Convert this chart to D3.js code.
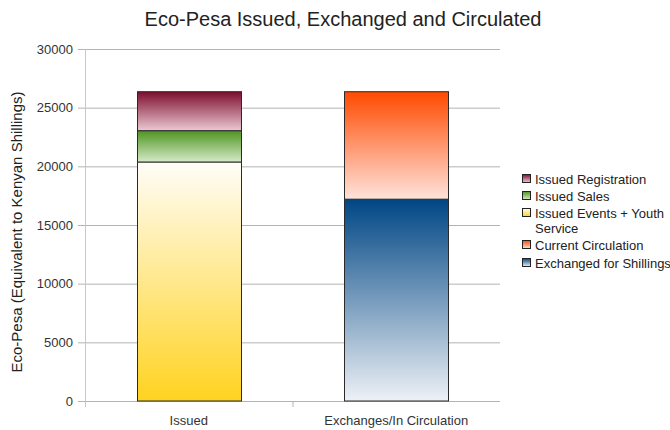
<!DOCTYPE html>
<html>
<head>
<meta charset="utf-8">
<script src="https://cdn.jsdelivr.net/npm/d3@7"></script>
<style>
body { margin: 0; background: #fff; }
text { font-family: "Liberation Sans", Arial, sans-serif; }
</style>
</head>
<body>
<div id="chart"></div>
<script>
// chart data
var categories = ["Issued", "Exchanges/In Circulation"];
var issuedNames = ["Issued Events + Youth Service", "Issued Sales", "Issued Registration"];
var issuedValues = [20370, 2670, 3320];
var exchangedNames = ["Exchanged for Shillings", "Current Circulation"];
var exchangedValues = [17200, 9160];
var yTicks = [0, 5000, 10000, 15000, 20000, 25000, 30000];
var legendItems = ["Issued Registration", "Issued Sales", "Issued Events + Youth Service",
	"Current Circulation", "Exchanged for Shillings"];

// gradient colours: [top, bottom]
var grads = {
	"Issued Registration": ["#7d0d2e", "#ebc9d3"],
	"Issued Sales": ["#4e9420", "#d6eac6"],
	"Issued Events + Youth Service": ["#fffdf8", "#ffd320"],
	"Current Circulation": ["#ff4a00", "#ffe3dc"],
	"Exchanged for Shillings": ["#004684", "#eef1f6"]
};

function chart() {
	var width = 670, height = 430;
	var pl = 85, pr = 500, pt = 49, pb = 401;

	var svg = d3.select("#chart").append("svg")
		.attr("width", width)
		.attr("height", height);

	var defs = svg.append("defs");
	var gid = {};
	Object.keys(grads).forEach(function(k, i) {
		var g = defs.append("linearGradient")
			.attr("id", "g" + i)
			.attr("x1", 0).attr("y1", 0).attr("x2", 0).attr("y2", 1);
		g.append("stop").attr("offset", "0%").attr("stop-color", grads[k][0]);
		g.append("stop").attr("offset", "100%").attr("stop-color", grads[k][1]);
		gid[k] = "g" + i;
	});

	var x = d3.scaleBand().domain(categories).range([pl, pr]);
	var y = d3.scaleLinear().domain([0, 30000]).range([pb, pt]);

	// gridlines
	svg.append("g").selectAll("line").data(yTicks).enter().append("line")
		.attr("x1", pl - 7).attr("x2", pr)
		.attr("y1", function(d){return y(d) + 0.5}).attr("y2", function(d){return y(d) + 0.5})
		.attr("stroke", "#b3b3b3").attr("stroke-width", 1);

	// y axis line
	svg.append("line")
		.attr("x1", pl + 0.5).attr("x2", pl + 0.5).attr("y1", pt).attr("y2", pb + 6)
		.attr("stroke", "#c8c8c8");

	// x axis middle tick
	svg.append("line")
		.attr("x1", x(categories[1]) + 0.5).attr("x2", x(categories[1]) + 0.5)
		.attr("y1", pb).attr("y2", pb + 6)
		.attr("stroke", "#b3b3b3");

	// y tick labels
	svg.append("g").selectAll("text").data(yTicks).enter().append("text")
		.attr("x", pl - 12).attr("y", function(d){return y(d) + 4.5})
		.attr("text-anchor", "end").attr("font-size", 13).attr("fill", "#333")
		.text(function(d){return d});

	// stacks
	function stackData(cat, names, vals) {
		var out = [], acc = 0;
		for (var i in vals) {
			out.push({cat: cat, name: names[i], y0: acc, y1: acc + vals[i]});
			acc += vals[i];
		}
		return out;
	}
	var segs = stackData(categories[0], issuedNames, issuedValues)
		.concat(stackData(categories[1], exchangedNames, exchangedValues));

	var bw = Math.round(x.bandwidth() * 0.5);
	svg.append("g").selectAll("rect").data(segs).enter().append("rect")
		.attr("x", function(d){return Math.round(x(d.cat) + (x.bandwidth() - bw) / 2) + 0.5})
		.attr("width", bw)
		.attr("y", function(d){return y(d.y1)})
		.attr("height", function(d){return y(d.y0) - y(d.y1)})
		.attr("fill", function(d){return "url(#" + gid[d.name] + ")"})
		.attr("stroke", "#2a2a2a").attr("stroke-width", 1);

	// category labels
	svg.append("g").selectAll("text").data(categories).enter().append("text")
		.attr("x", function(d){return x(d) + x.bandwidth() / 2})
		.attr("y", pb + 24)
		.attr("text-anchor", "middle").attr("font-size", 13).attr("fill", "#333")
		.text(function(d){return d});

	// title
	svg.append("text")
		.attr("x", 343).attr("y", 26)
		.attr("text-anchor", "middle").attr("font-size", 20).attr("fill", "#222")
		.text("Eco-Pesa Issued, Exchanged and Circulated");

	// y title
	svg.append("text")
		.attr("transform", "translate(22,232) rotate(-90)")
		.attr("text-anchor", "middle").attr("font-size", 15).attr("fill", "#222")
		.text("Eco-Pesa (Equivalent to Kenyan Shillings)");

	// legend
	var ly = [179, 196, 213, 245, 263];
	var leg = svg.append("g");
	legendItems.forEach(function(t, i) {
		leg.append("rect")
			.attr("x", 522.5).attr("y", ly[i] - 4.5).attr("width", 8).attr("height", 8)
			.attr("fill", "url(#" + gid[t] + ")").attr("stroke", "#222");
		var parts = t == "Issued Events + Youth Service" ? ["Issued Events + Youth", "Service"] : [t];
		parts.forEach(function(p, j) {
			leg.append("text")
				.attr("x", 535).attr("y", ly[i] + 4.5 + j * 15)
				.attr("font-size", 13).attr("fill", "#222")
				.text(p);
		});
	});
}

chart();
</script>
</body>
</html>
